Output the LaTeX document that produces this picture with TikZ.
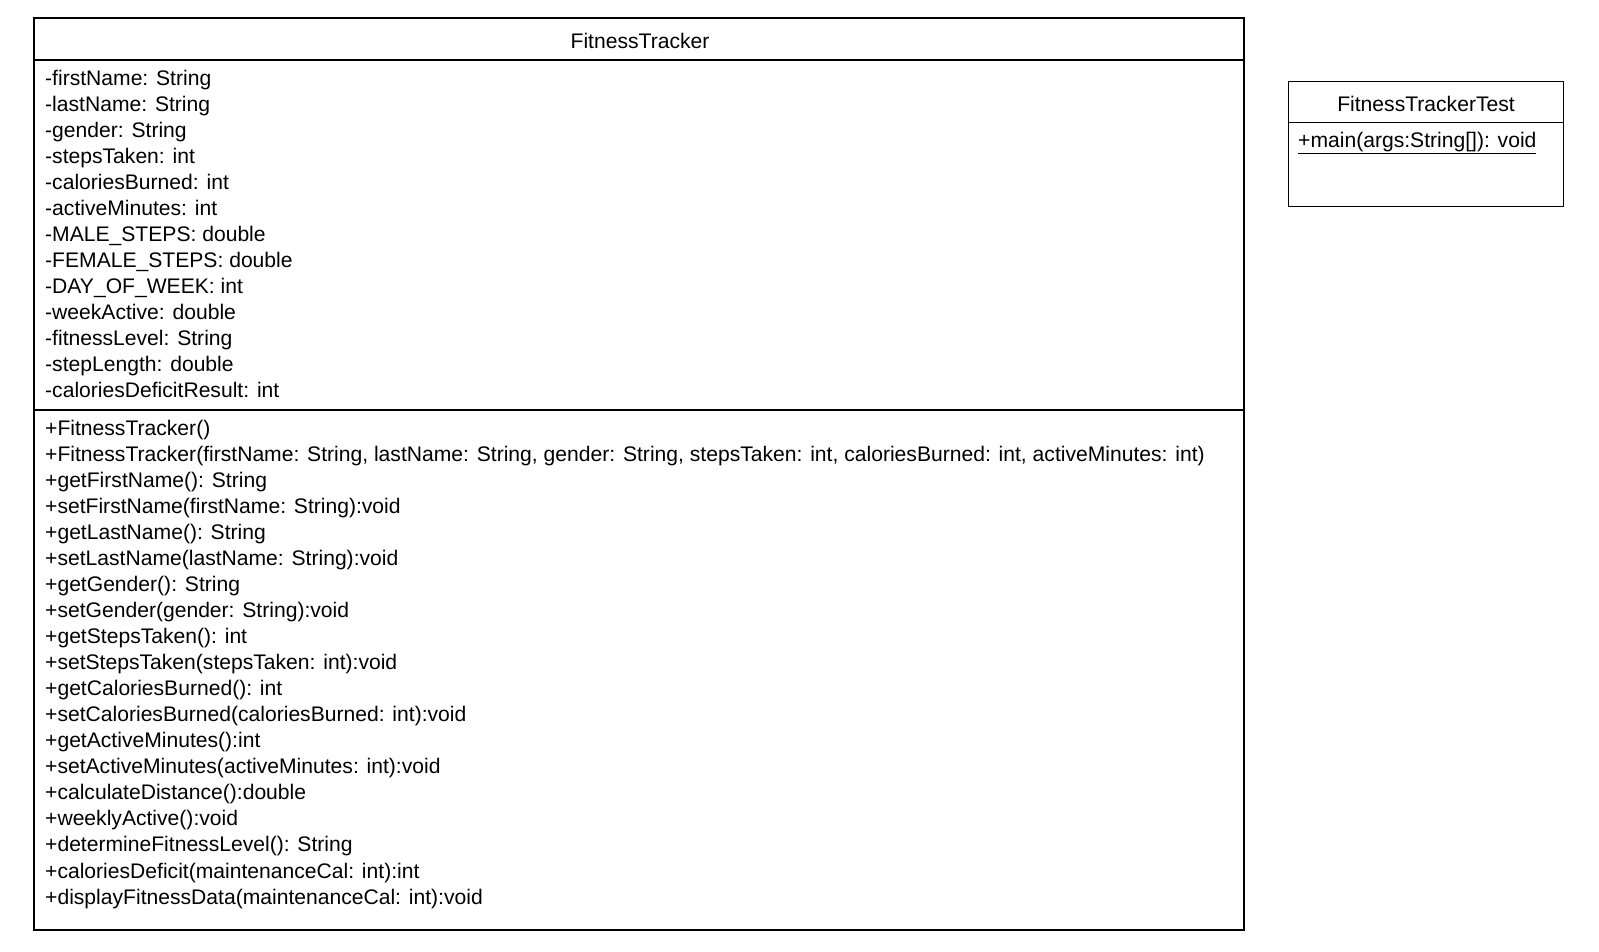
\documentclass[tikz,border=0pt]{standalone}
\usepackage{fontspec}
\setmainfont{Liberation Sans}
\begin{document}
\begin{tikzpicture}[x=1pt,y=-1pt,
  classbox/.style={draw=black, line width=1.2pt, fill=white, rectangle, inner sep=0pt, outer sep=0pt, anchor=north west},
  sepline/.style={draw=black, line width=1.2pt},
  member/.style={anchor=base west, inner sep=0pt, font=\fontsize{21.1}{26}\selectfont},
  title/.style={anchor=base, inner sep=0pt, font=\fontsize{21.1}{26}\selectfont}]
\useasboundingbox (0,0) rectangle (1599,952);
% FitnessTracker class
\node[classbox, minimum width=1210pt, minimum height=912pt] (ft) at (34,18) {};
\coordinate (s1l) at (34,60); \coordinate (s1r) at (1244,60);
\coordinate (s2l) at (34,410); \coordinate (s2r) at (1244,410);
\draw[sepline] (s1l) -- (s1r);
\draw[sepline] (s2l) -- (s2r);
\node[title] (ftname) at (640,48.5) {FitnessTracker};
\node[member] (a1) at (45,85.2) {-firstName: String};
\node[member] (a2) at (45,111.26) {-lastName: String};
\node[member] (a3) at (45,137.32) {-gender: String};
\node[member] (a4) at (45,163.38) {-stepsTaken: int};
\node[member] (a5) at (45,189.44) {-caloriesBurned: int};
\node[member] (a6) at (45,215.5) {-activeMinutes: int};
\node[member] (a7) at (45,241.56) {-MALE\_STEPS: double};
\node[member] (a8) at (45,267.62) {-FEMALE\_STEPS: double};
\node[member] (a9) at (45,293.68) {-DAY\_OF\_WEEK: int};
\node[member] (a10) at (45,319.74) {-weekActive: double};
\node[member] (a11) at (45,345.8) {-fitnessLevel: String};
\node[member] (a12) at (45,371.86) {-stepLength: double};
\node[member] (a13) at (45,397.92) {-caloriesDeficitResult: int};
\node[member] (m1) at (45,435) {+FitnessTracker()};
\node[member] (m2) at (45,461.06) {+FitnessTracker(firstName: String, lastName: String, gender: String, stepsTaken: int, caloriesBurned: int, activeMinutes: int)};
\node[member] (m3) at (45,487.12) {+getFirstName(): String};
\node[member] (m4) at (45,513.18) {+setFirstName(firstName: String):void};
\node[member] (m5) at (45,539.24) {+getLastName(): String};
\node[member] (m6) at (45,565.3) {+setLastName(lastName: String):void};
\node[member] (m7) at (45,591.36) {+getGender(): String};
\node[member] (m8) at (45,617.42) {+setGender(gender: String):void};
\node[member] (m9) at (45,643.48) {+getStepsTaken(): int};
\node[member] (m10) at (45,669.54) {+setStepsTaken(stepsTaken: int):void};
\node[member] (m11) at (45,695.6) {+getCaloriesBurned(): int};
\node[member] (m12) at (45,721.66) {+setCaloriesBurned(caloriesBurned: int):void};
\node[member] (m13) at (45,747.72) {+getActiveMinutes():int};
\node[member] (m14) at (45,773.78) {+setActiveMinutes(activeMinutes: int):void};
\node[member] (m15) at (45,799.84) {+calculateDistance():double};
\node[member] (m16) at (45,825.9) {+weeklyActive():void};
\node[member] (m17) at (45,851.96) {+determineFitnessLevel(): String};
\node[member] (m18) at (45,878.02) {+caloriesDeficit(maintenanceCal: int):int};
\node[member] (m19) at (45,904.08) {+displayFitnessData(maintenanceCal: int):void};
% FitnessTrackerTest class
\node[classbox, minimum width=274.6pt, minimum height=125pt] (ftt) at (1288.7,81.7) {};
\coordinate (t1l) at (1288.7,122.7); \coordinate (t1r) at (1563.3,122.7);
\draw[sepline] (t1l) -- (t1r);
\node[title] (fttname) at (1426,111.7) {FitnessTrackerTest};
\node[member] (tm1) at (1298,147.8) {\underline{+main(args:String[]): void}};
\end{tikzpicture}
\end{document}
